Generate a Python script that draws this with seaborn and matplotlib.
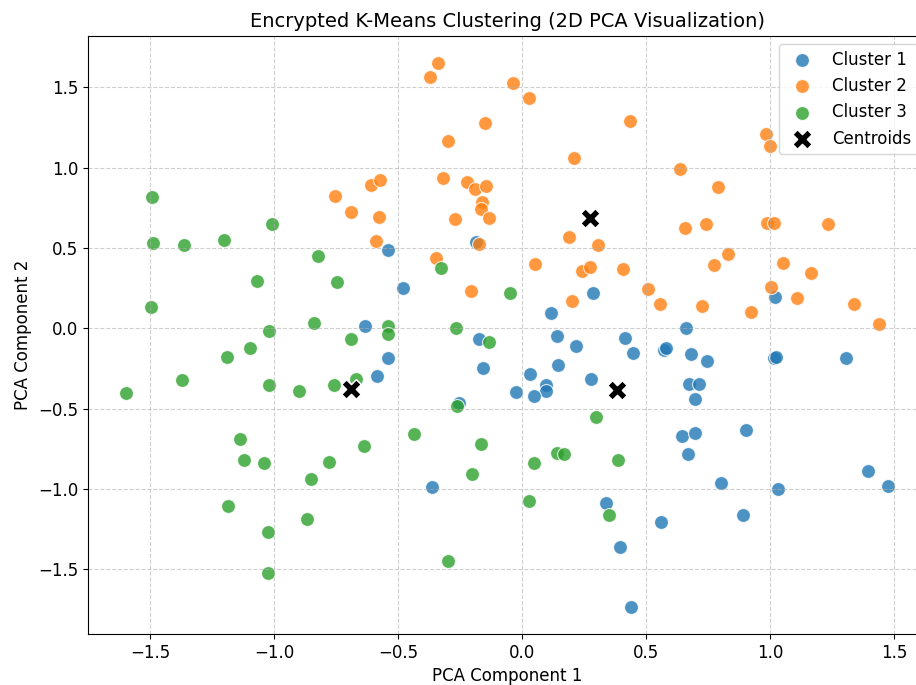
import matplotlib
matplotlib.use("Agg")
import matplotlib.pyplot as plt
import seaborn as sns

# ---- data ----
c1_x = [-0.188, -0.541, -0.483, 0.286, 0.114, -0.635, 1.019, 0.660, -0.175, -0.541,
        -0.584, -0.157, 0.139, 0.215, 0.143, 0.033, 0.094, 0.097, -0.024, 0.047,
        0.275, 0.416, 0.445, -0.255, -0.365, 0.338, 0.392, 0.439, 0.570, 0.581,
        0.682, 0.746, 1.016, 1.021, 1.304, 0.674, 0.714, 0.698, 0.644, 0.698,
        0.903, 0.669, 0.802, 1.032, 1.394, 1.476, 0.558, 0.890]
c1_y = [0.539, 0.487, 0.249, 0.222, 0.097, 0.012, 0.197, 0.002, -0.067, -0.183,
        -0.295, -0.249, -0.046, -0.110, -0.228, -0.286, -0.353, -0.388, -0.398, -0.419,
        -0.315, -0.058, -0.156, -0.463, -0.989, -1.085, -1.359, -1.734, -0.135, -0.124,
        -0.162, -0.203, -0.187, -0.180, -0.183, -0.347, -0.347, -0.442, -0.670, -0.650,
        -0.635, -0.782, -0.965, -1.002, -0.886, -0.981, -1.203, -1.160]

c2_x = [-0.340, -0.373, -0.039, 0.028, -0.149, 0.434, -0.301, 0.209, -0.612, -0.573,
        -0.321, -0.224, -0.191, -0.148, -0.161, -0.165, -0.133, -0.579, -0.273, -0.588,
        -0.175, -0.349, -0.205, 0.190, 0.304, 0.051, 0.242, 0.272, 0.407, 0.508,
        0.200, 0.984, 0.998, 0.636, 0.789, 0.655, 0.742, 0.988, 1.016, 1.233,
        0.831, 0.774, 1.051, 1.162, 1.004, 0.554, 0.726, 0.922, 1.108, 1.338,
        1.437, -0.756, -0.692]
c2_y = [1.653, 1.564, 1.528, 1.431, 1.276, 1.292, 1.166, 1.062, 0.894, 0.923,
        0.937, 0.909, 0.865, 0.886, 0.788, 0.742, 0.686, 0.694, 0.678, 0.545,
        0.525, 0.436, 0.234, 0.568, 0.517, 0.398, 0.355, 0.380, 0.369, 0.243,
        0.170, 1.211, 1.134, 0.989, 0.877, 0.622, 0.649, 0.657, 0.657, 0.649,
        0.464, 0.392, 0.404, 0.346, 0.259, 0.149, 0.139, 0.103, 0.190, 0.149,
        0.029, 0.825, 0.726]

c3_x = [-1.491, -1.487, -1.362, -1.201, -1.009, -0.823, -1.071, -0.746, -1.496, -0.841,
        -1.020, -0.690, -1.099, -1.190, -1.373, -1.597, -1.020, -0.901, -0.758, -0.670,
        -1.138, -1.121, -1.043, -0.851, -0.781, -0.640, -1.186, -0.867, -1.024, -1.024,
        -0.326, -0.048, -0.542, -0.543, -0.269, -0.134, -0.262, -0.436, -0.168, -0.201,
        0.299, 0.138, 0.170, 0.047, 0.386, 0.029, 0.349, -0.298]
c3_y = [0.819, 0.531, 0.516, 0.548, 0.649, 0.452, 0.294, 0.288, 0.133, 0.030,
        -0.017, -0.067, -0.124, -0.177, -0.324, -0.404, -0.355, -0.392, -0.353, -0.315,
        -0.687, -0.820, -0.840, -0.938, -0.834, -0.731, -1.108, -1.189, -1.266, -1.521,
        0.377, 0.222, 0.017, -0.037, 0.000, -0.087, -0.484, -0.658, -0.722, -0.909,
        -0.554, -0.774, -0.782, -0.840, -0.820, -1.073, -1.160, -1.448]

centroid_x = [0.382, 0.272, -0.692]
centroid_y = [-0.384, 0.688, -0.378]

cluster_labels = ["Cluster 1", "Cluster 2", "Cluster 3"]
cluster_colors = ["#1f77b4", "#ff7f0e", "#2ca02c"]

# ---- figure ----
W, H = 916, 685
fig = plt.figure(figsize=(W / 100, H / 100), dpi=100)
# axes extends slightly past the right edge (reference is cropped there)
left_px, right_px, top_px, bottom_px = 88, 926.6, 35.5, 634
ax = fig.add_axes([left_px / W, (H - bottom_px) / H,
                   (right_px - left_px) / W, (bottom_px - top_px) / H])

for xs, ys, lab, col in zip([c1_x, c2_x, c3_x], [c1_y, c2_y, c3_y],
                            cluster_labels, cluster_colors):
    sns.scatterplot(x=xs, y=ys, color=col, s=100, alpha=0.8, label=lab, ax=ax)

sns.scatterplot(x=centroid_x, y=centroid_y, color="black", marker="X", s=200,
                label="Centroids", ax=ax)

ax.set_xlim(-1.751, 1.63)
ax.set_ylim(-1.903, 1.822)
ax.set_xticks([-1.5, -1.0, -0.5, 0.0, 0.5, 1.0, 1.5])
ax.set_yticks([-1.5, -1.0, -0.5, 0.0, 0.5, 1.0, 1.5])
ax.tick_params(labelsize=12)
ax.set_title("Encrypted K-Means Clustering (2D PCA Visualization)", fontsize=14)
ax.set_xlabel("PCA Component 1", fontsize=12)
ax.set_ylabel("PCA Component 2", fontsize=12)
ax.grid(True, linestyle="--", alpha=0.6)
ax.legend(loc="upper right", fontsize=12)

fig.savefig("out.png", dpi=100)
